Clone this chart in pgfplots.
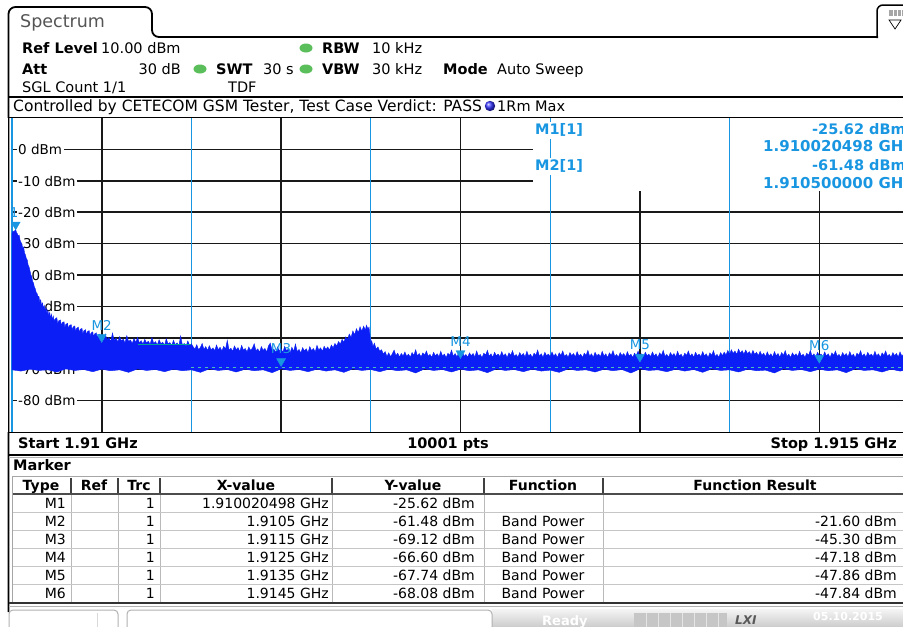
\documentclass[border=0pt]{standalone}
\usepackage{pgfplots}
\pgfplotsset{compat=1.18}
\usepackage{fontspec}
\setmainfont{DejaVu Sans}
\definecolor{mkblue}{RGB}{25,150,225}
\definecolor{trblue}{RGB}{10,30,245}
\definecolor{gridc}{RGB}{25,25,25}
\definecolor{ledg}{RGB}{90,190,90}
\definecolor{tealc}{RGB}{0,165,150}
\definecolor{tabgray}{RGB}{85,85,85}
\newcommand\fa{\fontsize{14.5}{17}\selectfont}
\newcommand\fb{\fontsize{13.5}{16}\selectfont}
\newcommand\fc{\fontsize{14}{16}\selectfont}
\begin{document}
\begin{tikzpicture}[x=1pt,y=1pt]
\useasboundingbox (0,0) rectangle (903,-627);
\clip (0,0) rectangle (903,-627);
\fill[white] (0,0) rectangle (903,-627);
\begin{scope}[yscale=-1]
% tab and frame
\draw[line width=1.8pt, rounded corners=7pt] (8.5,612) -- (8.5,7) -- (152,7) -- (152,37) -- (878,37);
\node[anchor=mid west, inner sep=0, text=tabgray, font=\fontsize{17.5}{20}\selectfont] at (20,25) {Spectrum};
\draw[line width=1.5pt, rounded corners=6pt] (877,38) -- (877,5) -- (912,5);
\fill[gray!70] (889,10) rectangle (904,16);
\draw[white, line width=0.6pt] (893,10) -- (893,16) (897,10) -- (897,16) (901,10) -- (901,16);
\draw[line width=0.7pt] (889,20) -- (901,20) -- (895,29) -- cycle;
% header
\begin{scope}[every node/.style={inner sep=0, font=\fa}]
\node[anchor=mid west] at (22,51) {\textbf{Ref Level}};
\node[anchor=mid west] at (101,51) {10.00 dBm};
\node[anchor=mid west] at (322,51) {\textbf{RBW}};
\node[anchor=mid west] at (372,51) {10 kHz};
\node[anchor=mid west] at (22,72) {\textbf{Att}};
\node[anchor=mid east] at (181,72) {30 dB};
\node[anchor=mid west] at (216,72) {\textbf{SWT}};
\node[anchor=mid west] at (263,72) {30 s};
\node[anchor=mid west] at (322,72) {\textbf{VBW}};
\node[anchor=mid west] at (372,72) {30 kHz};
\node[anchor=mid west] at (443,72) {\textbf{Mode}};
\node[anchor=mid west] at (497,72) {Auto Sweep};
\node[anchor=mid west] at (22,90) {SGL Count 1/1};
\node[anchor=mid west] at (228,90) {TDF};
\node[anchor=mid west, font=\fontsize{15.5}{18}\selectfont] at (13,109) {Controlled by CETECOM GSM Tester, Test Case Verdict: PASS};
\node[anchor=mid west] at (497,109) {1Rm Max};
\end{scope}
\fill[ledg] (306,48) ellipse (6.5 and 4.5);
\fill[ledg] (200,69) ellipse (6.5 and 4.5);
\fill[ledg] (306,69) ellipse (6.5 and 4.5);
\shade[ball color=blue!80] (490,106) circle (5.2);
\draw[line width=2pt] (8.5,97) -- (903,97);
\end{scope}

\begin{axis}[
  at={(12pt,-432pt)}, anchor=south west,
  scale only axis, width=897pt, height=314pt,
  xmin=0, xmax=5000, ymin=-90, ymax=10,
  axis line style={draw=none},
  xtick={500,1500,2500,3500,4500},
  ytick={-80,-70,-60,-50,-40,-30,-20,-10,0},
  xticklabels={}, yticklabels={},
  major tick length=0pt,
  grid=major,
  major grid style={gridc, line width=1.6pt},
  extra x ticks={0,1000,2000,3000,4000},
  extra x tick labels={},
  extra x tick style={grid=major, major grid style={mkblue, line width=1.3pt}},
  clip=true,
]
% level labels inside the diagram
\node[anchor=mid west, fill=white, inner sep=1.5pt, font=\fb, xshift=4.5pt, yshift=-2.5pt] at (axis cs:0,0) {0 dBm};
\node[anchor=mid west, fill=white, inner sep=1.5pt, font=\fb, xshift=4.5pt, yshift=-2.5pt] at (axis cs:0,-10) {-10 dBm};
\node[anchor=mid west, inner sep=0pt, font=\fb, text=mkblue, xshift=-14pt, yshift=-2.5pt] at (axis cs:0,-20) {M1};
\node[anchor=mid west, fill=white, inner sep=1.5pt, font=\fb, xshift=4.5pt, yshift=-2.5pt] at (axis cs:0,-20) {-20 dBm};
\node[anchor=mid west, fill=white, inner sep=1.5pt, font=\fb, xshift=4.5pt, yshift=-2.5pt] at (axis cs:0,-30) {-30 dBm};
\node[anchor=mid west, fill=white, inner sep=1.5pt, font=\fb, xshift=4.5pt, yshift=-2.5pt] at (axis cs:0,-40) {-40 dBm};
\node[anchor=mid west, fill=white, inner sep=1.5pt, font=\fb, xshift=4.5pt, yshift=-2.5pt] at (axis cs:0,-50) {-50 dBm};
\node[anchor=mid west, fill=white, inner sep=1.5pt, font=\fb, xshift=4.5pt, yshift=-2.5pt] at (axis cs:0,-60) {-60 dBm};
\node[anchor=mid west, fill=white, inner sep=1.5pt, font=\fb, xshift=4.5pt, yshift=-2.5pt] at (axis cs:0,-70) {-70 dBm};
\node[anchor=mid west, fill=white, inner sep=1.5pt, font=\fb, xshift=4.5pt, yshift=-2.5pt] at (axis cs:0,-80) {-80 dBm};
% marker info field
\fill[white] (axis cs:2904,-13.3) rectangle (axis cs:5200,11);
\addplot[mkblue, line width=1.3pt] coordinates {(3000,-90) (3000,10)};
\addplot[mkblue, line width=1.3pt] coordinates {(4000,-90) (4000,10)};
% trace 1 (max hold): upper envelope, then lower envelope back to the start
\addplot[fill=trblue, draw=trblue, line width=0.4pt] coordinates {
(0,-70.2) (0,-26.8) (5,-26.0) (10,-26.3) (15,-25.9) (20.5,-25.62) (25,-26.4) (30,-26.9) (35,-27.6) (40,-27.3) (45,-28.9) (50,-29.6) (55,-30.2) (60,-31.5) (65,-31.1) (70,-33.0) (75,-33.6) (80,-34.8) (85,-35.2) (90,-36.9) (95,-37.4) (100,-38.6) (105,-39.9) (110,-40.5) (115,-42.0) (120,-42.6) (125,-43.9) (130,-44.4) (135,-45.6) (140,-45.9) (145,-47.0) (150,-46.8) (155,-48.6) (160,-47.9) (165,-49.7) (170,-48.9) (175,-50.6) (180,-49.7) (185,-51.5) (190,-50.4) (195,-52.3) (200,-51.2) (205,-53.0) (210,-51.9) (215,-53.7) (220,-52.5) (225,-54.3) (230,-53.1) (235,-54.8) (240,-54.0) (250,-53.6) (255,-55.6) (260,-54.6) (270,-54.3) (275,-56.2) (280,-55.2) (290,-54.9) (295,-56.8) (300,-55.7) (310,-55.4) (315,-57.2) (320,-56.1) (330,-55.8) (335,-57.6) (340,-56.6) (350,-56.2) (355,-58.1) (360,-57.0) (370,-56.6) (375,-58.4) (380,-57.3) (390,-57.0) (395,-58.8) (400,-57.8) (410,-57.4) (415,-59.1) (420,-58.1) (430,-57.7) (435,-59.4) (440,-58.5) (450,-58.1) (455,-59.8) (460,-58.8) (470,-58.4) (475,-60.1) (480,-59.1) (490,-58.8) (495,-60.4)
(500,-59.7) (510,-60.9) (520,-58.8) (530,-60.6) (540,-59.9) (550,-61.2) (560,-58.5) (570,-60.8) (580,-60.1) (590,-61.3) (600,-59.6) (610,-61.0) (620,-60.4) (630,-61.6) (640,-59.3) (650,-61.2) (660,-60.7) (670,-61.8) (680,-60.2) (690,-61.5) (700,-59.8) (710,-61.7) (720,-60.9) (730,-62.0) (740,-60.5) (750,-61.6) (760,-61.1) (770,-62.1) (780,-59.9) (790,-61.8) (800,-61.2) (810,-62.3) (820,-60.6) (830,-61.9) (840,-61.4) (850,-62.4) (860,-60.3) (870,-62.0) (880,-61.5) (890,-62.5) (900,-60.8) (910,-62.2) (920,-61.6) (930,-62.6) (940,-59.4) (950,-62.3) (960,-61.8) (970,-62.7) (980,-61.0) (990,-62.4) (1000,-61.9)
(1010,-62.9) (1020,-63.6) (1030,-62.2) (1040,-63.8) (1050,-63.1) (1060,-61.8) (1070,-63.7) (1080,-62.8) (1090,-64.0) (1100,-62.5) (1110,-63.9) (1120,-63.2) (1130,-64.1) (1140,-62.3) (1150,-63.8) (1160,-63.0) (1170,-64.2) (1180,-62.7) (1190,-63.6) (1200,-60.8) (1210,-63.9) (1220,-63.3) (1230,-64.3) (1240,-62.6) (1250,-63.8) (1260,-63.1) (1270,-64.4) (1280,-62.4) (1290,-63.9) (1300,-63.4) (1310,-64.5) (1320,-62.9) (1330,-64.0) (1340,-63.3) (1350,-61.9) (1360,-64.1) (1370,-63.5) (1380,-64.6) (1390,-62.8) (1400,-64.0) (1410,-63.4) (1420,-64.5) (1430,-62.5) (1440,-61.7) (1450,-64.1) (1460,-63.6) (1470,-64.7) (1480,-62.9) (1490,-64.2) (1500,-63.5) (1510,-64.6) (1520,-62.7) (1530,-64.1) (1540,-63.6) (1550,-64.8) (1560,-63.0) (1570,-64.3) (1580,-62.0) (1590,-64.4) (1600,-63.7) (1610,-64.8) (1620,-63.1) (1630,-64.2) (1640,-63.5) (1650,-64.7) (1660,-62.8) (1670,-64.1) (1680,-63.4) (1690,-64.5) (1700,-62.4) (1710,-63.9) (1720,-63.2) (1730,-64.3) (1740,-62.7) (1750,-63.7) (1760,-62.9) (1770,-63.9) (1780,-62.3) (1790,-63.2)
(1800,-61.8) (1810,-62.6) (1820,-61.2) (1830,-62.0) (1840,-60.5) (1850,-61.4) (1860,-59.7) (1870,-60.6) (1880,-58.8) (1890,-59.9) (1900,-57.8) (1910,-59.0) (1920,-57.1) (1930,-58.4) (1940,-56.5) (1950,-57.9) (1960,-56.3) (1970,-57.6) (1975,-56.0) (1985,-57.2) (1990,-56.6) (1995,-59.0) (2000,-61.8) (2005,-60.9) (2012,-62.8) (2020,-61.7) (2030,-63.6) (2040,-62.9) (2050,-64.3) (2060,-63.8)
(2070,-65.2) (2080,-64.4) (2090,-65.9) (2100,-64.8) (2110,-66.0) (2120,-65.1) (2130,-63.9) (2140,-65.7) (2150,-64.9) (2160,-66.1) (2170,-65.0) (2180,-65.8) (2190,-64.5) (2200,-65.9) (2210,-65.2) (2220,-66.2) (2230,-64.7) (2240,-65.6) (2250,-63.8) (2260,-65.8) (2270,-65.0) (2280,-66.1) (2290,-64.8) (2300,-65.5) (2310,-64.2) (2320,-65.9) (2330,-65.3) (2340,-66.2) (2350,-64.6) (2360,-65.7) (2370,-65.1) (2380,-66.0) (2390,-64.3) (2400,-65.8) (2410,-65.2) (2420,-66.3) (2430,-64.9) (2440,-65.6) (2450,-63.9) (2460,-65.9) (2470,-65.0) (2480,-66.1) (2490,-64.7) (2500,-65.4) (2510,-64.4) (2520,-65.9) (2530,-65.3) (2540,-66.2) (2550,-64.8) (2560,-65.7) (2570,-65.0) (2580,-66.1) (2590,-64.2) (2600,-65.8) (2610,-65.3) (2620,-66.3) (2630,-64.9) (2640,-65.5) (2650,-64.0) (2660,-65.9) (2670,-65.1) (2680,-66.2) (2690,-64.6) (2700,-65.7) (2710,-65.2) (2720,-66.0) (2730,-64.4) (2740,-65.8) (2750,-65.1) (2760,-66.3) (2770,-64.8) (2780,-65.6) (2790,-64.1) (2800,-65.9) (2810,-65.3) (2820,-66.2) (2830,-64.7) (2840,-65.7) (2850,-65.0) (2860,-66.1) (2870,-64.3) (2880,-65.8) (2890,-65.2) (2900,-66.3) (2910,-64.9) (2920,-65.6) (2930,-63.9) (2940,-65.9) (2950,-65.1) (2960,-66.2) (2970,-64.6) (2980,-65.7) (2990,-65.2) (3000,-66.0)
(3010,-64.5) (3020,-65.8) (3030,-65.1) (3040,-66.3) (3050,-64.8) (3060,-65.6) (3070,-64.2) (3080,-65.9) (3090,-65.3) (3100,-66.2) (3110,-64.7) (3120,-65.7) (3130,-65.0) (3140,-66.1) (3150,-64.4) (3160,-65.8) (3170,-65.2) (3180,-66.3) (3190,-64.9) (3200,-65.6) (3210,-64.0) (3220,-65.9) (3230,-65.1) (3240,-66.2) (3250,-64.6) (3260,-65.7) (3270,-65.2) (3280,-66.0) (3290,-64.3) (3300,-65.8) (3310,-65.1) (3320,-66.3) (3330,-64.8) (3340,-65.6) (3350,-64.1) (3360,-65.9) (3370,-65.3) (3380,-66.2) (3390,-64.7) (3400,-65.7) (3410,-65.0) (3420,-66.1) (3430,-64.4) (3440,-65.8) (3450,-65.2) (3460,-66.3) (3470,-64.9) (3480,-65.6) (3490,-64.2) (3500,-65.9) (3510,-65.1) (3520,-66.2) (3530,-64.6) (3540,-65.7) (3550,-65.2) (3560,-66.0) (3570,-64.5) (3580,-65.8) (3590,-65.1) (3600,-66.3) (3610,-64.8) (3620,-65.6) (3630,-64.0) (3640,-65.9) (3650,-65.3) (3660,-66.2) (3670,-64.7) (3680,-65.7) (3690,-65.0) (3700,-66.1) (3710,-64.3) (3720,-65.8) (3730,-65.2) (3740,-66.3) (3750,-64.9) (3760,-65.6) (3770,-64.2) (3780,-65.9) (3790,-65.1) (3800,-66.2) (3810,-64.6) (3820,-65.7) (3830,-65.2) (3840,-66.0) (3850,-64.4) (3860,-65.8) (3870,-65.1) (3880,-66.3) (3890,-64.8) (3900,-65.6) (3910,-64.1) (3920,-65.9) (3930,-65.3) (3940,-66.2) (3950,-64.7) (3960,-65.7) (3970,-64.6) (3980,-65.5) (3990,-64.0) (4000,-65.2)
(4010,-63.8) (4020,-65.0) (4030,-64.2) (4040,-65.3) (4050,-63.6) (4060,-64.9) (4070,-64.1) (4080,-65.2) (4090,-63.9) (4100,-65.1) (4110,-64.4) (4120,-65.5) (4130,-64.0) (4140,-65.3) (4150,-64.6) (4160,-65.7) (4170,-64.3) (4180,-65.6) (4190,-64.9) (4200,-66.0) (4210,-64.5) (4220,-65.8) (4230,-65.1) (4240,-66.1) (4250,-64.4) (4260,-65.7) (4270,-65.0) (4280,-66.2) (4290,-64.7) (4300,-65.6) (4310,-64.1) (4320,-65.9) (4330,-65.2) (4340,-66.3) (4350,-64.8) (4360,-65.7) (4370,-65.1) (4380,-66.0) (4390,-64.3) (4400,-65.8) (4410,-65.2) (4420,-66.2) (4430,-64.9) (4440,-65.6) (4450,-64.0) (4460,-65.9) (4470,-65.1) (4480,-66.2) (4490,-64.6) (4500,-65.7) (4510,-65.2) (4520,-66.0) (4530,-64.5) (4540,-65.8) (4550,-65.1) (4560,-66.3) (4570,-64.8) (4580,-65.6) (4590,-64.2) (4600,-65.9) (4610,-65.3) (4620,-66.2) (4630,-64.7) (4640,-65.7) (4650,-65.0) (4660,-66.1) (4670,-64.4) (4680,-65.8) (4690,-65.2) (4700,-66.3) (4710,-64.9) (4720,-65.6) (4730,-64.1) (4740,-65.9) (4750,-65.1) (4760,-66.2) (4770,-64.6) (4780,-65.7) (4790,-65.2) (4800,-66.0) (4810,-64.3) (4820,-65.8) (4830,-65.1) (4840,-66.3) (4850,-64.8) (4860,-65.6) (4870,-64.2) (4880,-65.9) (4890,-65.3) (4900,-66.2) (4910,-64.7) (4920,-65.7) (4930,-65.0) (4940,-66.1) (4950,-64.5) (4960,-65.8) (4970,-65.2) (4980,-66.3) (4990,-64.9) (5000,-65.6)
(5000,-70.1) (4950,-70.6) (4900,-70.0) (4850,-70.9) (4800,-70.2) (4750,-70.4) (4700,-69.9) (4650,-71.1) (4600,-70.2) (4550,-70.5) (4500,-70.0) (4450,-70.8) (4400,-70.1) (4350,-70.4) (4300,-69.9) (4250,-71.2) (4200,-70.3) (4150,-70.5) (4100,-70.0) (4050,-70.9) (4000,-70.2) (3950,-70.4) (3900,-69.9) (3850,-71.0) (3800,-70.1) (3750,-70.6) (3700,-70.0) (3650,-70.8) (3600,-70.2) (3550,-70.4) (3500,-69.9) (3450,-71.2) (3400,-70.1) (3350,-70.5) (3300,-70.0) (3250,-70.9) (3200,-70.2) (3150,-70.4) (3100,-69.9) (3050,-71.0) (3000,-70.3) (2950,-70.6) (2900,-70.0) (2850,-70.8) (2800,-70.1) (2750,-70.4) (2700,-69.9) (2650,-71.1) (2600,-70.2) (2550,-70.5) (2500,-70.0) (2450,-70.9) (2400,-70.1) (2350,-70.4) (2300,-69.9) (2250,-71.2) (2200,-70.2) (2150,-70.5) (2100,-70.0) (2050,-70.8) (2000,-70.1) (1950,-70.4) (1900,-69.9) (1850,-71.0) (1800,-70.2) (1750,-70.6) (1700,-70.0) (1650,-70.8) (1600,-70.1) (1550,-70.4) (1500,-69.9) (1450,-71.1) (1400,-70.2) (1350,-70.5) (1300,-70.0) (1250,-70.9) (1200,-70.1) (1150,-70.4) (1100,-69.9) (1050,-71.0) (1000,-70.2) (950,-70.5) (900,-70.0) (850,-70.8) (800,-70.1) (750,-70.4) (700,-69.9) (650,-71.0) (600,-70.2) (550,-70.5) (500,-70.0) (450,-70.8) (400,-70.1) (350,-70.4) (300,-69.9) (250,-70.9) (200,-70.2) (150,-70.4) (100,-70.0) (50,-70.6) (0,-70.2)
};
% band power indicator lines
\addplot[tealc, line width=1pt] coordinates {(700,-62.0) (995,-62.0)};
\addplot[tealc!70!white, line width=0.8pt, dash pattern=on 3pt off 4pt] coordinates {(1000,-69.5) (5000,-69.5)};
% markers M1..M6
\addplot[only marks, mark=triangle*, mark size=5.2pt,
  mark options={yshift=5.2pt, rotate=180, draw=mkblue, fill=mkblue}]
  coordinates {(20.498,-25.62)};
\addplot[only marks, mark=triangle*, mark size=5.2pt,
  mark options={yshift=5.2pt, rotate=180, draw=mkblue, fill=mkblue},
  point meta=explicit symbolic, nodes near coords,
  nodes near coords style={font=\fb, text=mkblue, yshift=7pt, inner sep=0pt}]
  coordinates {(500,-61.48) [M2] (1500,-69.12) [M3] (2500,-66.60) [M4] (3500,-67.74) [M5] (4500,-68.08) [M6]};
\end{axis}

\begin{scope}[yscale=-1]
% diagram frame
\draw[line width=1.5pt] (9,117.5) -- (903,117.5);
\draw[line width=1.5pt] (9,432.5) -- (903,432.5);
\fill[white] (0,118) rectangle (8,432);
\draw[line width=1.8pt] (8.5,97) -- (8.5,612);
\draw[line width=2.5pt] (8.5,455) -- (903,455);
\draw[gray!60, line width=0.8pt] (8.5,457.5) -- (903,457.5);
% marker info field texts
\begin{scope}[every node/.style={inner sep=0, font=\fa\bfseries, text=mkblue}]
\node[anchor=mid west, fill=white, inner ysep=2pt, inner xsep=1pt] at (534,132) {M1[1]};
\node[anchor=mid west, fill=white, inner ysep=2pt, inner xsep=1pt] at (534,168) {M2[1]};
\node[anchor=mid west] at (812,132) {-25.62 dBm};
\node[anchor=mid west, font=\fontsize{15}{17}\selectfont\bfseries] at (763,149) {1.910020498 GHz};
\node[anchor=mid west] at (812,168) {-61.48 dBm};
\node[anchor=mid west, font=\fontsize{15}{17}\selectfont\bfseries] at (763,186) {1.910500000 GHz};
\end{scope}
% bottom line of diagram
\begin{scope}[every node/.style={inner sep=0, font=\fa\bfseries}]
\node[anchor=mid west] at (18,446) {Start 1.91 GHz};
\node[anchor=mid] at (448,446) {10001 pts};
\node[anchor=mid east] at (897,446) {Stop 1.915 GHz};
\node[anchor=mid west] at (13,468) {Marker};
\end{scope}
% marker table
\draw[gray!70, line width=0.8pt] (12,476) -- (903,476);
\foreach \xx in {71,118,160,332,484,603} {\draw[gray!55, line width=0.8pt] (\xx,494) -- (\xx,602);}
\foreach \xx in {71,118,160,332,484,603} {\draw[black!75, line width=1.1pt] (\xx,478) -- (\xx,494);}
\foreach \yy in {512,530,548,566,584} {\draw[gray!45, line width=0.8pt] (12,\yy) -- (903,\yy);}
\draw[black!70, line width=1.2pt] (12,494) -- (903,494);
\draw[gray!70, line width=1pt] (12,476) -- (12,602);
\draw[black!80, line width=1.6pt] (8.5,603) -- (903,603);
\draw[gray!60, line width=1pt] (8.5,606.5) -- (903,606.5);
\begin{scope}[every node/.style={inner sep=0, font=\fc\bfseries}]
\node[anchor=mid] at (41,488) {Type};
\node[anchor=mid] at (94,488) {Ref};
\node[anchor=mid] at (139,488) {Trc};
\node[anchor=mid] at (246,488) {X-value};
\node[anchor=mid] at (413,488) {Y-value};
\node[anchor=mid] at (543,488) {Function};
\node[anchor=mid] at (755,488) {Function Result};
\end{scope}
\begin{scope}[every node/.style={inner sep=0, font=\fc}]
\node[anchor=mid east] at (66,506) {M1};
\node[anchor=mid east] at (66,524) {M2};
\node[anchor=mid east] at (66,542) {M3};
\node[anchor=mid east] at (66,560) {M4};
\node[anchor=mid east] at (66,578) {M5};
\node[anchor=mid east] at (66,596) {M6};
\node[anchor=mid east] at (155,506) {1};
\node[anchor=mid east] at (155,524) {1};
\node[anchor=mid east] at (155,542) {1};
\node[anchor=mid east] at (155,560) {1};
\node[anchor=mid east] at (155,578) {1};
\node[anchor=mid east] at (155,596) {1};
\node[anchor=mid east] at (329,506) {1.910020498 GHz};
\node[anchor=mid east] at (329,524) {1.9105 GHz};
\node[anchor=mid east] at (329,542) {1.9115 GHz};
\node[anchor=mid east] at (329,560) {1.9125 GHz};
\node[anchor=mid east] at (329,578) {1.9135 GHz};
\node[anchor=mid east] at (329,596) {1.9145 GHz};
\node[anchor=mid east] at (475,506) {-25.62 dBm};
\node[anchor=mid east] at (475,524) {-61.48 dBm};
\node[anchor=mid east] at (475,542) {-69.12 dBm};
\node[anchor=mid east] at (475,560) {-66.60 dBm};
\node[anchor=mid east] at (475,578) {-67.74 dBm};
\node[anchor=mid east] at (475,596) {-68.08 dBm};
\node[anchor=mid] at (543,524) {Band Power};
\node[anchor=mid] at (543,542) {Band Power};
\node[anchor=mid] at (543,560) {Band Power};
\node[anchor=mid] at (543,578) {Band Power};
\node[anchor=mid] at (543,596) {Band Power};
\node[anchor=mid east] at (897,524) {-21.60 dBm};
\node[anchor=mid east] at (897,542) {-45.30 dBm};
\node[anchor=mid east] at (897,560) {-47.18 dBm};
\node[anchor=mid east] at (897,578) {-47.86 dBm};
\node[anchor=mid east] at (897,596) {-47.84 dBm};
\end{scope}
% status bar
\fill[top color=gray!8, bottom color=gray!40] (492,609) rectangle (903,627);
\draw[gray!60, line width=1pt, rounded corners=4pt] (9,630) -- (9,610) -- (118,610) -- (118,630);
\draw[gray!30, line width=0.8pt] (97,613) -- (97,627);
\draw[gray!60, line width=1pt, rounded corners=4pt] (127,630) -- (127,610) -- (492,610) -- (492,630);
\fill[gray!45] (634,613) rectangle (727,627);
\foreach \xx in {646,658,670,682,694,706,718} {\draw[white!80!gray, line width=0.8pt] (\xx,613) -- (\xx,627);}
\node[anchor=mid west, inner sep=0, text=white, font=\fontsize{13}{15}\selectfont\bfseries] at (542,623) {Ready};
\node[anchor=mid west, inner sep=0, text=gray!70!black, font=\fontsize{12}{14}\selectfont\bfseries\itshape] at (735,622) {LXI};
\node[anchor=mid west, inner sep=0, text=white, font=\fontsize{11}{13}\selectfont\bfseries] at (813,618) {05.10.2015};
\end{scope}
\end{tikzpicture}
\end{document}
